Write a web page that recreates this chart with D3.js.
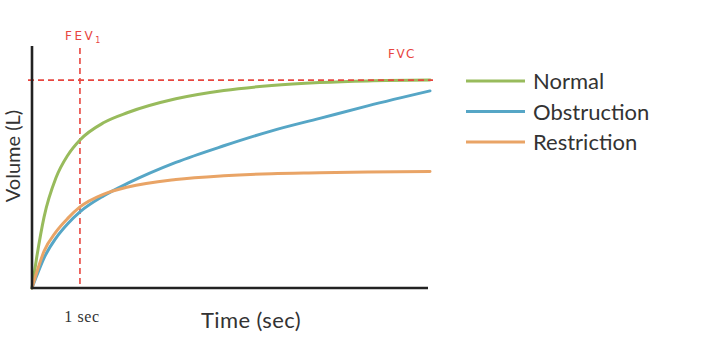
<!DOCTYPE html>
<html>
<head>
<meta charset="utf-8">
<script src="https://cdn.jsdelivr.net/npm/d3@7"></script>
<style>
	body { margin: 0; background: #fff; }
	svg { display: block; }
</style>
</head>
<body>
<div class="container"></div>
<script>
// time (sec) and volume (L)
var timePoints = [0, 0.1, 0.25, 0.5, 0.75, 1, 1.5, 2, 3, 4, 5, 6, 7, 8.3];
var normalVolume = [0, 0.75, 1.7, 2.65, 3.2, 3.56, 3.98, 4.22, 4.55, 4.75, 4.87, 4.94, 4.98, 5.0];
var obstructionVolume = [0, 0.3, 0.72, 1.2, 1.55, 1.83, 2.22, 2.52, 3.02, 3.42, 3.78, 4.08, 4.38, 4.74];
var restrictionVolume = [0, 0.38, 0.88, 1.35, 1.68, 1.95, 2.26, 2.43, 2.61, 2.7, 2.75, 2.77, 2.79, 2.8];

var seriesNames = ["Normal", "Obstruction", "Restriction"];
var fev1Time = 1;
var fvcVolume = 5;

(function() {
	var width = 714, height = 364;
	var colors = ["#98bb5c", "#56a6c6", "#e9a466"];
	var red = "#e8453f";
	var series = [
		{ name: seriesNames[0], volume: normalVolume },
		{ name: seriesNames[1], volume: obstructionVolume },
		{ name: seriesNames[2], volume: restrictionVolume }
	];

	var x = d3.scaleLinear().domain([0, 8.3]).range([32, 430]);
	var y = d3.scaleLinear().domain([0, 5.82]).range([288, 46]);

	var svg = d3.select(".container").append("svg")
		.attr("width", width)
		.attr("height", height);

	var line = d3.line()
		.x(function(d) { return x(d[0]); })
		.y(function(d) { return y(d[1]); })
		.curve(d3.curveMonotoneX);

	// FEV1 vertical
	svg.append("line")
		.attr("x1", x(fev1Time)).attr("x2", x(fev1Time))
		.attr("y1", 48).attr("y2", y(0))
		.attr("stroke", red).attr("stroke-width", 1.6)
		.attr("stroke-dasharray", "6,4");

	// curves
	svg.selectAll(".curve")
		.data(series)
		.enter().append("path")
		.attr("class", "curve")
		.attr("fill", "none")
		.attr("stroke", function(d, i) { return colors[i]; })
		.attr("stroke-width", 3)
		.attr("stroke-linecap", "round")
		.attr("d", function(d) {
			return line(timePoints.map(function(t, i) { return [t, d.volume[i]]; }));
		});

	// FVC horizontal, on top of the normal curve
	svg.append("line")
		.attr("x1", 28).attr("x2", 433)
		.attr("y1", y(fvcVolume)).attr("y2", y(fvcVolume))
		.attr("stroke", red).attr("stroke-width", 1.6)
		.attr("stroke-dasharray", "6,4");

	// axes
	var xAxis = d3.axisBottom(x).tickValues([]).tickSizeOuter(0);
	var yAxis = d3.axisLeft(y).tickValues([]).tickSizeOuter(0);
	svg.append("g").attr("transform", "translate(0," + y(0) + ")").call(xAxis)
		.select(".domain").attr("stroke", "#222").attr("stroke-width", 2.6)
		.attr("d", "M31,0H428");
	svg.append("g").attr("transform", "translate(" + x(0) + ",0)").call(yAxis)
		.select(".domain").attr("stroke", "#222").attr("stroke-width", 2.6)
		.attr("d", "M0,46V289");

	// labels
	svg.append("text")
		.attr("x", 82).attr("y", 322)
		.attr("text-anchor", "middle")
		.attr("font-family", "Liberation Serif")
		.attr("font-size", 16).attr("fill", "#333")
		.attr("letter-spacing", 0.6)
		.text("1 sec");
	svg.append("text")
		.attr("x", 251).attr("y", 328)
		.attr("text-anchor", "middle")
		.attr("font-family", "Lato")
		.attr("font-size", 22).attr("fill", "#333")
		.attr("letter-spacing", 0.4)
		.text("Time (sec)");
	svg.append("text")
		.attr("transform", "translate(20,156) rotate(-90)")
		.attr("text-anchor", "middle")
		.attr("font-family", "Lato")
		.attr("font-size", 20).attr("fill", "#333")
		.text("Volume (L)");

	var fev = svg.append("text")
		.attr("x", 65).attr("y", 40)
		.attr("font-family", "DejaVu Sans")
		.attr("font-size", 12).attr("fill", red)
		.attr("letter-spacing", 2.5)
		.text("FEV");
	fev.append("tspan").attr("font-size", 8).attr("dy", 3).text("1");
	svg.append("text")
		.attr("x", 388).attr("y", 58)
		.attr("font-family", "DejaVu Sans")
		.attr("font-size", 12).attr("fill", red)
		.attr("letter-spacing", 1.5)
		.text("FVC");

	// legend
	var legend = svg.selectAll(".legend")
		.data(series)
		.enter().append("g")
		.attr("class", "legend")
		.attr("transform", function(d, i) { return "translate(466," + (81 + i * 30.5) + ")"; });
	legend.append("line")
		.attr("x1", 0).attr("x2", 59)
		.attr("stroke", function(d, i) { return colors[i]; })
		.attr("stroke-width", 3);
	legend.append("text")
		.attr("x", 67).attr("y", 8)
		.attr("font-family", "Lato")
		.attr("font-size", 22).attr("fill", "#333")
		.text(function(d) { return d.name; });
})();
</script>
</body>
</html>
